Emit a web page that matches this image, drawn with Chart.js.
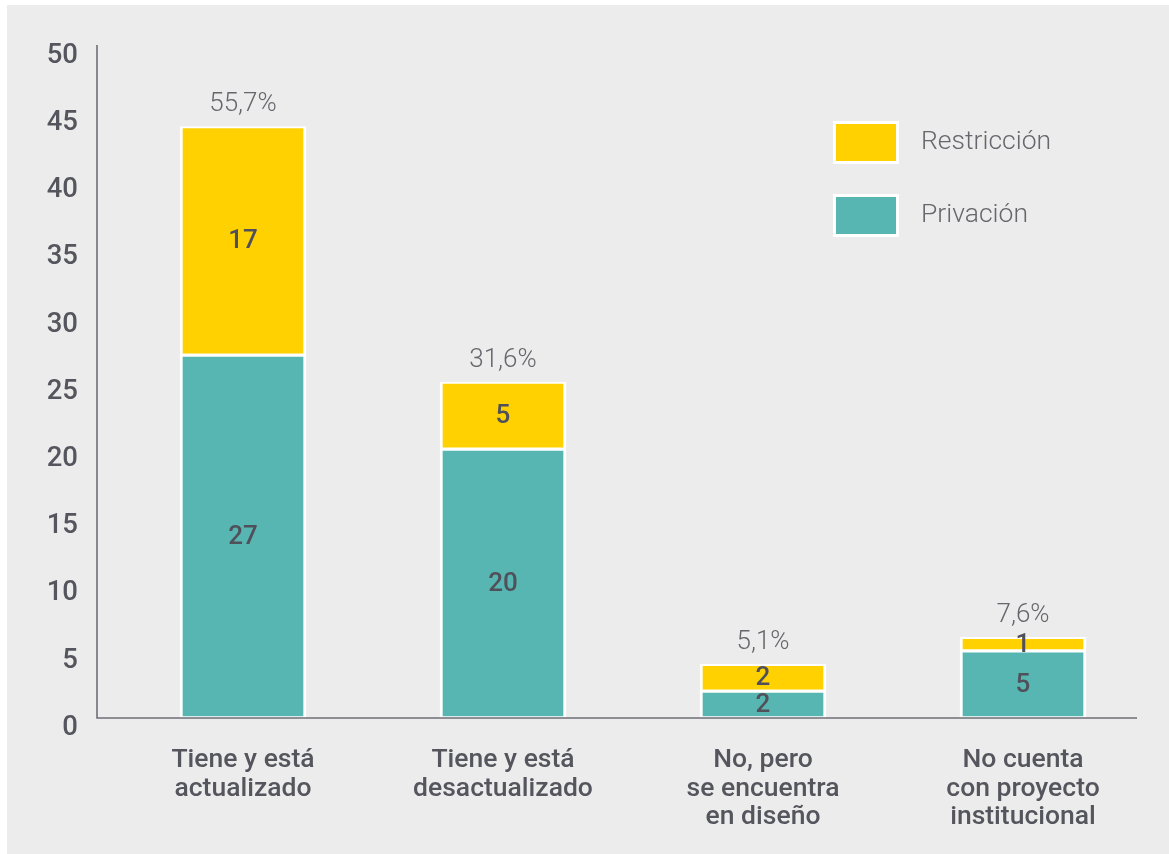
<!DOCTYPE html>
<html>
<head>
<meta charset="utf-8">
<script src="https://cdn.jsdelivr.net/npm/chart.js@4.4.1/dist/chart.umd.min.js"></script>
<style>
html,body{margin:0;padding:0;background:#ffffff;}
#wrap{position:absolute;left:0;top:0;width:1169px;height:854px;}
</style>
</head>
<body>
<div id="wrap"><canvas id="c" width="1169" height="854"></canvas></div>
<script>
const categories = [
  ["Tiene y está", "actualizado"],
  ["Tiene y está", "desactualizado"],
  ["No, pero", "se encuentra", "en diseño"],
  ["No cuenta", "con proyecto", "institucional"]
];
const privacion = [27, 20, 2, 5];
const restriccion = [17, 5, 2, 1];
const percentLabels = ["55,7%", "31,6%", "5,1%", "7,6%"];
const yTicks = [0, 5, 10, 15, 20, 25, 30, 35, 40, 45, 50];

const TEXT = '#55555e';
const YELLOW = '#ffd100';
const TEAL = '#57b6b1';

const bgPlugin = {
  id: 'bg',
  beforeDraw(chart) {
    const ctx = chart.ctx;
    ctx.save();
    ctx.fillStyle = '#ffffff';
    ctx.fillRect(0, 0, chart.width, chart.height);
    ctx.fillStyle = '#ececec';
    ctx.fillRect(7, 5, chart.width - 7, chart.height - 5);
    ctx.restore();
  }
};

const axesPlugin = {
  id: 'axesLines',
  afterDatasetsDraw(chart) {
    const ctx = chart.ctx;
    const a = chart.chartArea;
    const y = chart.scales.y;
    const x0 = a.left - 16;
    ctx.save();
    ctx.strokeStyle = '#6e6e76';
    ctx.lineWidth = 1.6;
    ctx.beginPath();
    ctx.moveTo(x0, y.getPixelForValue(50) - 1);
    ctx.lineTo(x0, y.getPixelForValue(0));
    ctx.lineTo(a.right - 16, y.getPixelForValue(0));
    ctx.stroke();
    ctx.restore();
  }
};

const labelsPlugin = {
  id: 'barLabels',
  afterDatasetsDraw(chart) {
    const ctx = chart.ctx;
    ctx.save();
    ctx.textAlign = 'center';
    ctx.textBaseline = 'middle';
    ctx.fillStyle = '#50505a';
    ctx.font = '500 26px Roboto';
    chart.data.datasets.forEach((ds, di) => {
      const meta = chart.getDatasetMeta(di);
      meta.data.forEach((bar, i) => {
        const cy = (bar.y + bar.base) / 2;
        ctx.fillText(String(ds.data[i]), bar.x, cy + 1);
      });
    });
    ctx.font = '300 26px Roboto';
    ctx.fillStyle = '#66666c';
    const yScale = chart.scales.y;
    const topMeta = chart.getDatasetMeta(1);
    topMeta.data.forEach((bar, i) => {
      const total = privacion[i] + restriccion[i];
      const ty = yScale.getPixelForValue(total);
      ctx.fillText(percentLabels[i], bar.x, ty - 22);
    });
    ctx.restore();
  }
};

const legendPlugin = {
  id: 'customLegend',
  afterDraw(chart) {
    const ctx = chart.ctx;
    const items = [chart.data.datasets[1], chart.data.datasets[0]];
    ctx.save();
    items.forEach((ds, k) => {
      const bx = 833, by = 121 + k * 73;
      ctx.fillStyle = '#ffffff';
      ctx.fillRect(bx, by, 66, 43);
      ctx.fillStyle = ds.backgroundColor;
      ctx.fillRect(bx + 3, by + 3, 60, 37);
      ctx.font = '300 26.5px Roboto';
      ctx.fillStyle = '#66666c';
      ctx.textAlign = 'left';
      ctx.textBaseline = 'middle';
      ctx.fillText(ds.label, 921, by + 21);
    });
    ctx.restore();
  }
};

function build() {
  new Chart(document.getElementById('c'), {
    type: 'bar',
    data: {
      labels: categories,
      datasets: [
        {
          label: 'Privación',
          data: privacion,
          backgroundColor: TEAL,
          borderColor: '#ffffff',
          borderWidth: {left: 3, right: 3, top: 2, bottom: 2},
          borderSkipped: false,
          barThickness: 126
        },
        {
          label: 'Restricción',
          data: restriccion,
          backgroundColor: YELLOW,
          borderColor: '#ffffff',
          borderWidth: {left: 3, right: 3, top: 2, bottom: 2},
          borderSkipped: false,
          barThickness: 126
        }
      ]
    },
    options: {
      responsive: false,
      animation: false,
      devicePixelRatio: 1,
      layout: {padding: {top: 46, right: 16, bottom: 0, left: 0}},
      plugins: {
        legend: {display: false},
        tooltip: {enabled: false}
      },
      scales: {
        x: {
          stacked: true,
          grid: {display: false, drawTicks: false},
          border: {display: false},
          ticks: {
            color: TEXT,
            font: {family: 'Roboto', size: 26.5, weight: '500', lineHeight: 1.08},
            padding: 28,
            maxRotation: 0,
            autoSkip: false
          },
          afterFit(scale) {
            scale.height = 136;
            scale.paddingLeft = 0; scale.paddingRight = 0;
          }
        },
        y: {
          stacked: true,
          min: 0,
          max: 50,
          grid: {display: false, drawTicks: false},
          border: {display: false},
          afterBuildTicks(scale) { scale.ticks = yTicks.map(v => ({value: v})); },
          ticks: {
            color: TEXT,
            font: {family: 'Roboto', size: 27.5, weight: '500'},
            padding: 35,
            labelOffset: 10
          },
          afterFit(scale) {
            scale.width = 113;
            scale.paddingTop = 0; scale.paddingBottom = 0;
          }
        }
      }
    },
    plugins: [bgPlugin, axesPlugin, labelsPlugin, legendPlugin]
  });
}

Promise.all([
  document.fonts.load('500 24px Roboto'),
  document.fonts.load('300 24px Roboto'),
  document.fonts.load('400 24px Roboto')
]).then(build, build);
</script>
</body>
</html>
